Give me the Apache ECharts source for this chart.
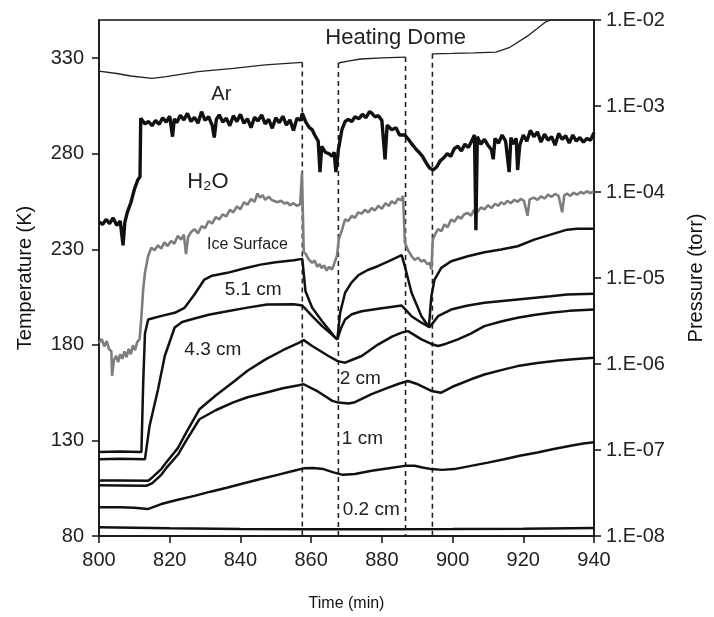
<!DOCTYPE html>
<html><head><meta charset="utf-8">
<script src="https://cdn.jsdelivr.net/npm/echarts@6/dist/echarts.min.js"></script>
<style>html,body{margin:0;padding:0;background:#fff}#c{width:714px;height:617px}</style>
</head><body><div id="c"></div>
<script>
// ---------- DATA ----------
const pressureTickLabels = ['1.E-08','1.E-07','1.E-06','1.E-05','1.E-04','1.E-03','1.E-02'];
const pressureTickExponents = [-8,-7,-6,-5,-4,-3,-2];

// Heating dome temperature (K), three segments separated by heating periods
const domePre  = [[800,323.2],[805,322],[809,320.7],[815,319.5],[819,320.4],[828,323],[838,324.7],[847,326.5],[857.5,327.8]];
const domeMid  = [[867.7,327.5],[870,328.3],[874,329.6],[880,330.2],[886.7,330.6]];
const domePost = [[894.3,332.3],[900,332.5],[906,332.8],[912.3,333.2],[916,335.5],[921.6,342.1],[926.3,349],[928,350],[940,350]];

// Ar partial pressure (torr)
const arData = [[800,4.5e-5],[801,4.2e-5],[802,4.8e-5],[803,4.3e-5],[804,5.0e-5],[805,4.1e-5],[806,4.6e-5],[806.8,2.4e-5],[807.3,4.4e-5],[808,5.8e-5],[809,7.5e-5],[810,1.07e-4],[811,1.39e-4],[811.6,1.5e-4],[811.8,7.2e-4],
[812,7.0e-4],[813,6.2e-4],[814,6.6e-4],[815,5.9e-4],[816,6.8e-4],[817,6.1e-4],[818,7.3e-4],[819,6.5e-4],[820,7.6e-4],[820.8,4.4e-4],[821.3,7.1e-4],[822,6.4e-4],[823,7.8e-4],[824,6.9e-4],[825,8.2e-4],[826,6.6e-4],[827,7.4e-4],[828,6.3e-4],[829,8.6e-4],[830,6.8e-4],[831,7.5e-4],[832,6.0e-4],[832.6,4.3e-4],[833.2,7.0e-4],[834,7.9e-4],[835,6.5e-4],[836,7.2e-4],[837,5.9e-4],[838,7.7e-4],[839,6.6e-4],[840,8.0e-4],[841,6.3e-4],[842,7.1e-4],[843,5.6e-4],[844,7.4e-4],[845,6.7e-4],[846,7.9e-4],[847,6.2e-4],[848,7.0e-4],[849,5.5e-4],[850,7.3e-4],[851,6.4e-4],[852,7.6e-4],[853,6.0e-4],[854,6.9e-4],[855,5.2e-4],[856,7.2e-4],[857,6.8e-4],[857.5,8.2e-4],
[858.5,6.5e-4],[859.5,5.6e-4],[860.3,5.3e-4],[861,4.6e-4],[862,3.9e-4],[862.5,1.7e-4],[863,3.4e-4],[864,2.9e-4],[865,2.8e-4],[865.9,2.6e-4],[866.5,2.9e-4],[867,1.7e-4],[867.7,3.1e-4],[868.7,5.3e-4],[869.6,6.6e-4],[870.5,7.0e-4],[871.5,6.6e-4],[872.4,7.5e-4],[873.5,7.1e-4],[874.5,8.0e-4],[875.5,7.3e-4],[876.5,8.6e-4],[877.1,8.3e-4],[878,7.5e-4],[879,7.7e-4],[880,6.8e-4],[880.9,2.4e-4],[881.5,6.0e-4],[882.8,5.3e-4],[884,5.6e-4],[885,4.6e-4],[886.5,4.6e-4],[887.5,4.1e-4],[888.5,3.6e-4],[889.5,3.2e-4],[890.5,2.9e-4],[891.5,2.6e-4],[892.5,2.2e-4],[893.5,1.9e-4],[894.5,1.8e-4],[895.5,1.95e-4],[896.5,2.3e-4],[897.5,2.5e-4],[898.5,2.8e-4],[899.5,2.6e-4],[900.5,3.2e-4],[901.5,3.4e-4],[902.5,3.0e-4],[903.5,3.6e-4],[904.5,3.3e-4],[905.5,4.0e-4],[906.2,4.6e-4],[906.6,3.6e-5],[907,4.4e-4],[908,3.6e-4],[909,4.1e-4],[910,3.5e-4],[911,3.1e-4],[911.5,2.4e-4],[912,4.2e-4],[913,3.7e-4],[914,4.6e-4],[915,3.9e-4],[916,1.7e-4],[916.5,4.3e-4],[917,3.6e-4],[918,4.2e-4],[918.4,1.8e-4],[919,3.5e-4],[920,4.6e-4],[921,3.9e-4],[922,5.2e-4],[923,4.4e-4],[924,5.0e-4],[925,3.8e-4],[926,4.7e-4],[927,4.0e-4],[928,4.4e-4],[929,3.5e-4],[930,4.8e-4],[931,4.1e-4],[932,4.5e-4],[933,3.7e-4],[934,4.6e-4],[935,3.9e-4],[936,4.3e-4],[937,3.8e-4],[938,4.2e-4],[939,4.0e-4],[940,4.9e-4]];

// H2O partial pressure (torr)
const h2oData = [[800,1.75e-6],[800.8,1.95e-6],[801.5,1.6e-6],[802.2,1.85e-6],[802.8,1.5e-6],[803.5,1.4e-6],[803.7,7.3e-7],[804.2,1.1e-6],[804.8,1.25e-6],[805.4,1.05e-6],[806,1.3e-6],[806.6,1.15e-6],[807.2,1.4e-6],[807.8,1.2e-6],[808.4,1.5e-6],[809,1.3e-6],[809.6,1.65e-6],[810.2,1.45e-6],[810.8,1.8e-6],[811.5,1.95e-6],[812,3.6e-6],[812.5,7.4e-6],[813,1.15e-5],[813.9,1.8e-5],[814.8,2.25e-5],[815.7,2.1e-5],[816.7,2.4e-5],[817.6,2.2e-5],[818.5,2.6e-5],[819.4,2.35e-5],[820.4,2.7e-5],[821.3,2.5e-5],[822.3,3.1e-5],[823.2,2.8e-5],[824,3.2e-5],[824.6,1.9e-5],[825.2,3.0e-5],[826,3.4e-5],[827,3.7e-5],[828,3.3e-5],[829,4.0e-5],[830,3.8e-5],[831,4.6e-5],[832,4.3e-5],[833,5.1e-5],[834,4.8e-5],[835,5.5e-5],[836,5.2e-5],[837,6.2e-5],[838,5.8e-5],[839,6.8e-5],[840,6.3e-5],[841,7.6e-5],[842,7.1e-5],[843,8.3e-5],[844,7.7e-5],[844.8,9.6e-5],[845.5,8.6e-5],[846.3,9.2e-5],[847,8.1e-5],[848,8.8e-5],[849,8.0e-5],[849.5,8.4e-5],[850.5,7.6e-5],[851.5,7.9e-5],[852.5,7.3e-5],[853.2,7.6e-5],[854,7.0e-5],[855,7.4e-5],[856,6.9e-5],[856.9,7.2e-5],[857.4,1.67e-4],[857.9,2.0e-5],[858.5,1.9e-5],[859.3,1.65e-5],[860.3,1.5e-5],[861,1.6e-5],[861.7,1.35e-5],[862.4,1.45e-5],[863,1.3e-5],[863.7,1.4e-5],[864.4,1.22e-5],[865.1,1.35e-5],[865.9,1.25e-5],[866.6,1.5e-5],[867.3,1.8e-5],[867.8,2.8e-5],[868.7,3.6e-5],[869.6,4.8e-5],[870.5,4.6e-5],[871.5,5.3e-5],[872.4,5.0e-5],[873.3,5.8e-5],[874.3,5.6e-5],[875.2,6.2e-5],[876.2,5.8e-5],[877.1,6.5e-5],[878,6.1e-5],[879,6.9e-5],[880,6.4e-5],[881,7.4e-5],[882,6.9e-5],[882.8,7.8e-5],[883.7,7.3e-5],[884.6,8.4e-5],[885.4,8.0e-5],[886,9.0e-5],[886.5,2.6e-5],[887.4,2.1e-5],[888.4,1.8e-5],[889.3,1.62e-5],[890.2,1.72e-5],[891.2,1.55e-5],[892,1.62e-5],[892.8,1.45e-5],[893.5,1.5e-5],[894,1.26e-5],[894.4,2.8e-5],[895.2,3.3e-5],[895.9,3.7e-5],[896.8,3.5e-5],[897.7,4.2e-5],[898.6,3.9e-5],[899.6,4.8e-5],[900.5,4.5e-5],[901.5,5.2e-5],[902.4,4.9e-5],[903.3,5.5e-5],[904.3,5.7e-5],[905.2,5.3e-5],[906.1,6.2e-5],[907,5.8e-5],[908,6.6e-5],[909,6.3e-5],[910,7.0e-5],[911,6.5e-5],[912,7.3e-5],[913,6.9e-5],[913.7,7.6e-5],[914.6,7.2e-5],[915.5,7.9e-5],[916.5,7.4e-5],[917.4,8.1e-5],[918.4,7.7e-5],[919.3,8.3e-5],[920.2,7.9e-5],[921.2,5.3e-5],[921.8,8.2e-5],[923,8.6e-5],[924,8.1e-5],[925,8.9e-5],[926,8.4e-5],[927,9.3e-5],[928,8.8e-5],[929,9.5e-5],[930,9.0e-5],[931,5.8e-5],[931.6,9.2e-5],[932.4,9.6e-5],[933.3,9.0e-5],[934.2,9.8e-5],[935.2,9.3e-5],[936.2,1.0e-4],[937.1,9.6e-5],[938,1.02e-4],[939,9.7e-5],[940,1.02e-4]];

// Temperatures (K)
const iceSurface = [[800,124],[806,124.2],[812,124],[812.5,160],[813,186],[813.9,193.3],[815.7,194.2],[818,195.3],[821.4,196.8],[824.2,199.4],[827,206.4],[829.8,214.2],[832,216.2],[836.3,217.7],[841,220],[845.7,222],[850,223.2],[855.1,224.3],[857.5,225],[858.4,208.1],[860.3,199.4],[863.1,192.4],[866.8,183.8],[867.4,182.9],[868.2,196.8],[869.6,207.3],[871.4,212.6],[873.4,216.5],[876,219.2],[879,221.3],[882,223.8],[885.6,227],[886.5,221.1],[888.4,207.3],[891.2,195],[893.3,189.3],[894,205.5],[894.9,214.2],[896.8,220.3],[899.6,223.8],[904.3,226.4],[909,228.5],[913.7,229.9],[918.4,231.6],[923.1,235.1],[927.7,237.7],[932.4,240.3],[935.2,240.8],[940,240.8]];
const depth51 = [[800,120.2],[806,120.4],[813,120.2],[814.3,137.6],[816.7,156.8],[818.6,174.2],[821.4,189.1],[823.5,192],[826,193.3],[831,195.8],[836.3,197.6],[842,199.5],[847.5,201.1],[855.1,201.3],[857.5,200.6],[860.3,195],[863.1,189.8],[865.5,186],[867.4,182.9],[868.5,189],[869.6,193.3],[871.5,196],[874.3,197.6],[879,198.9],[885.6,200.6],[888.4,195],[891.2,191.6],[893.5,189.3],[895.9,195],[899.6,198.5],[904,200.5],[909,202],[918.4,203.8],[927.7,205.5],[932.4,206.4],[940,206.7]];
const depth43 = [[800,109],[806,109.1],[813.9,108.9],[815,110.5],[817.6,115],[819,118.5],[822.3,126],[824.7,134.2],[828.4,146.3],[833,153.5],[837.8,160.3],[842,166.5],[847.1,172.4],[852,177.2],[856.5,181.1],[857.9,182.5],[860.3,179.4],[864.9,174.2],[867.5,171.5],[869.6,170.7],[872,172.5],[874.3,174.2],[879,180.3],[883,184.5],[885.6,186.4],[887.4,187.2],[891.2,182.9],[894,180.5],[895.9,179.4],[898,180.5],[901.5,182.9],[905,185.8],[909,189.8],[913.7,192.2],[918.4,194.2],[923,195.6],[927.7,196.8],[933,197.8],[940,198.5]];
const depth2 = [[800,106.5],[806,106.4],[813.4,106.3],[815,107.5],[817.6,112],[819,115.5],[822.3,122.5],[824.7,130],[828.4,141.1],[833,145.8],[837.8,149.8],[842,152.6],[847.1,155],[852,157.3],[856.5,158.9],[857.9,159.4],[862,155.5],[866,150.7],[867.7,149.8],[870.6,149.3],[872.4,150],[877.1,154.2],[881.8,157.6],[885,159.8],[887.4,161.1],[890.2,159.4],[894,155.9],[896.8,155],[900.5,158.5],[905.2,162],[909,164.5],[914.6,167.2],[918.4,168.9],[924,170.5],[930,171.8],[935,172.6],[940,173.3]];
const depth1 = [[800,95],[806,95],[810,94.8],[813.8,94.1],[817.6,96.7],[822,98.8],[827,101],[831.5,103.2],[836.4,105.4],[841,107.6],[845.7,109.8],[850.5,112],[855.1,114.1],[857.9,115.4],[860.5,115.6],[863.5,115],[866.3,113.3],[869,112],[872.4,112.4],[877.1,114.1],[882,115.5],[886.5,116.7],[889.3,116.8],[891.5,115.8],[894,115],[897,114.6],[900.5,115],[905.2,116.7],[910,118.4],[914.6,120.2],[919,122],[924,123.7],[928.6,125.5],[933.4,127.2],[937,128.4],[940,129]];
const depth02 = [[800,84.6],[810,84.3],[820,84],[840,83.7],[860,83.5],[880,83.5],[900,83.6],[920,83.8],[940,84.2]];

// ---------- LAYOUT / STYLE ----------
const FONT = '"Liberation Sans", Arial, sans-serif';
const annotations = [
  {text:'Heating Dome', t:883.9, T:340.6, size:22},
  {text:'Ar', t:834.6, T:310.8, size:20},
  {text:'H\u2082O', t:830.8, T:265.5, size:22},
  {text:'Ice Surface', t:842.0, T:232.5, size:16},
  {text:'5.1 cm', t:843.6, T:209.0, size:19},
  {text:'4.3 cm', t:832.2, T:177.7, size:19},
  {text:'2 cm', t:873.9, T:162.5, size:19},
  {text:'1 cm', t:874.5, T:130.7, size:19},
  {text:'0.2 cm', t:877.0, T:93.6, size:19}
];

const chart = echarts.init(document.getElementById('c'));
const blackLine = (name, data, w) => ({
  name, type:'line', data, xAxisIndex:0, yAxisIndex:0, showSymbol:false, symbol:'none',
  lineStyle:{color:'#111', width:w}, z:3, animation:false
});
const dome = domePre.concat([[862,'-']], domeMid, [[890,'-']], domePost);
const dashPts = [domePre[domePre.length-1], domeMid[0], domeMid[domeMid.length-1], domePost[0]];
const dashedSeries = dashPts.map((p,i) => ({
  name:'dome-drop-'+i, type:'line', data:[[p[0],p[1]],[p[0],80]], showSymbol:false, symbol:'none',
  lineStyle:{color:'#222', width:1.6, type:[5,4]}, z:2, animation:false
}));

chart.setOption({
  animation:false,
  backgroundColor:'#fff',
  grid:{left:99, right:117, top:20, bottom:80, show:true, borderColor:'#111', borderWidth:1.5, backgroundColor:'transparent'},
  xAxis:{type:'value', min:800, max:940, interval:20,
    name:'Time (min)', nameLocation:'middle', nameGap:60,
    nameTextStyle:{fontFamily:FONT, fontSize:16, color:'#111'},
    axisLine:{lineStyle:{color:'#111', width:1.5}},
    axisTick:{show:true, length:7, lineStyle:{color:'#111', width:1.5}},
    axisLabel:{fontFamily:FONT, fontSize:20, color:'#222', margin:14},
    splitLine:{show:false}},
  yAxis:[
    {type:'value', min:80, max:350, interval:50, position:'left',
     name:'Temperature (K)', nameLocation:'middle', nameGap:64, nameRotate:90,
     nameTextStyle:{fontFamily:FONT, fontSize:20, color:'#111'},
     axisLine:{show:true, lineStyle:{color:'#111', width:1.5}},
     axisTick:{show:true, length:7, lineStyle:{color:'#111', width:1.5}},
     axisLabel:{fontFamily:FONT, fontSize:20, color:'#222', margin:15, showMaxLabel:false},
     splitLine:{show:false}},
    {type:'log', logBase:10, min:1e-8, max:1e-2, splitNumber:6, position:'right',
     name:'Pressure (torr)', nameLocation:'middle', nameGap:92, nameRotate:90,
     nameTextStyle:{fontFamily:FONT, fontSize:20, color:'#111'},
     axisLine:{show:true, lineStyle:{color:'#111', width:1.5}},
     axisTick:{show:true, length:7, lineStyle:{color:'#111', width:1.5}},
     axisLabel:{fontFamily:FONT, fontSize:20, color:'#222', margin:12,
       formatter:v => { const e = Math.round(Math.log10(v)); const i = pressureTickExponents.indexOf(e); return i>=0 ? pressureTickLabels[i] : ''; }},
     splitLine:{show:false}}
  ],
  series:[
    {name:'Heating Dome', type:'line', data:dome, showSymbol:false, symbol:'none', connectNulls:false,
     lineStyle:{color:'#222', width:1.3}, z:2, animation:false},
    ...dashedSeries,
    {name:'H2O', type:'line', data:h2oData, yAxisIndex:1, showSymbol:false, symbol:'none',
     lineStyle:{color:'#7d7d7d', width:2.6}, z:2, animation:false},
    {name:'Ar', type:'line', data:arData, yAxisIndex:1, showSymbol:false, symbol:'none',
     lineStyle:{color:'#111', width:3.4}, z:3, animation:false},
    blackLine('Ice Surface', iceSurface, 2.5),
    blackLine('5.1 cm', depth51, 2.5),
    blackLine('4.3 cm', depth43, 2.5),
    blackLine('2 cm', depth2, 2.5),
    blackLine('1 cm', depth1, 2.5),
    blackLine('0.2 cm', depth02, 2.5)
  ]
});

const graphics = annotations.map(a => {
  const p = chart.convertToPixel({xAxisIndex:0, yAxisIndex:0}, [a.t, a.T]);
  return {type:'text', x:p[0], y:p[1], z:10,
    style:{text:a.text, fontFamily:FONT, fontSize:a.size, fill:'#222', align:'center', verticalAlign:'middle'}};
});
chart.setOption({graphic:graphics});
</script>
</body></html>
